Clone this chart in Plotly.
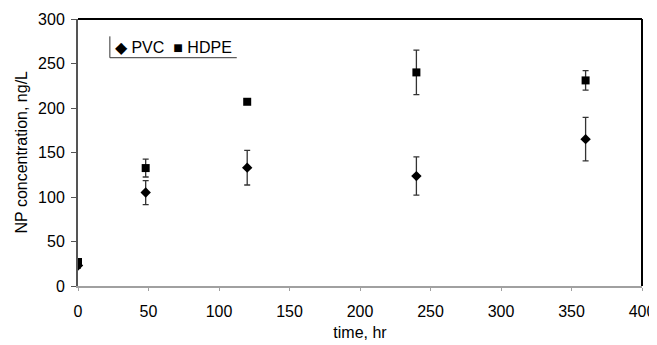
import plotly.graph_objects as go

time_hr = [0, 48, 120, 240, 360]
pvc = [23, 105, 133, 123.5, 165]
pvc_err = [3, 13.5, 19.5, 21.5, 24.5]
hdpe = [27, 132.5, 207, 240, 231]
hdpe_err = [2, 10, 2, 25, 11]

x_ticks = [0, 50, 100, 150, 200, 250, 300, 350, 400]
y_ticks = [0, 50, 100, 150, 200, 250, 300]
legend_text = "◆ PVC  ■ HDPE"
x_title = "time, hr"
y_title = "NP concentration, ng/L"

FONT = "Liberation Sans, Arial, sans-serif"

fig = go.Figure()
fig.add_trace(go.Scatter(
    x=time_hr, y=pvc, mode="markers", name="PVC",
    marker=dict(symbol="diamond", size=8, color="black"),
    error_y=dict(type="data", array=pvc_err, color="#333333", thickness=1.3, width=3),
))
fig.add_trace(go.Scatter(
    x=time_hr, y=hdpe, mode="markers", name="HDPE",
    marker=dict(symbol="square", size=8, color="black"),
    error_y=dict(type="data", array=hdpe_err, color="#333333", thickness=1.3, width=3),
))

# page body has an 8px default margin, so the figure is sized to fill the rest
fig.update_layout(
    width=649, height=337,
    margin=dict(l=70, r=15, t=11, b=59),
    paper_bgcolor="white", plot_bgcolor="white",
    font=dict(family=FONT, size=16, color="black"),
    showlegend=False,
    xaxis=dict(
        range=[0, 400], tickvals=x_ticks, ticktext=[str(v) for v in x_ticks],
        showgrid=False, zeroline=False, automargin=False,
        showline=True, linecolor="#a0a0a0", linewidth=2,
        ticks="outside", ticklen=3, tickcolor="#a0a0a0", tickwidth=1,
        ticklabelstandoff=7,
        tickfont=dict(family=FONT, size=16),
        title=dict(text=x_title, font=dict(family=FONT, size=16), standoff=8),
    ),
    yaxis=dict(
        range=[0, 300], tickvals=y_ticks, ticktext=[str(v) for v in y_ticks],
        showgrid=False, zeroline=False, automargin=False,
        showline=True, linecolor="#555555", linewidth=2,
        ticks="outside", ticklen=5, tickcolor="#555555", tickwidth=1,
        ticklabelstandoff=3,
        tickfont=dict(family=FONT, size=16),
    ),
)

# y-axis title placed as rotated text
fig.add_annotation(xref="paper", yref="paper", x=0, y=0.5, xanchor="center", yanchor="middle",
                   xshift=-57, textangle=-90, text=y_title, showarrow=False,
                   font=dict(family=FONT, size=16, color="black"))

# legend as text with partial frame (left and bottom lines), like the original
fig.add_annotation(xref="paper", yref="paper", x=0.062, y=0.895, xanchor="left", yanchor="middle",
                   text=legend_text, showarrow=False, font=dict(family=FONT, size=16, color="black"))
fig.add_shape(type="line", xref="paper", yref="paper", x0=0.0565, x1=0.0565, y0=0.855, y1=0.935,
              line=dict(color="#333333", width=1))
fig.add_shape(type="line", xref="paper", yref="paper", x0=0.0565, x1=0.2815, y0=0.855, y1=0.855,
              line=dict(color="#333333", width=1))

# top and right borders of the plot frame
fig.add_shape(type="line", xref="paper", yref="paper", x0=0, x1=1, y0=1, y1=1,
              line=dict(color="black", width=2))
fig.add_shape(type="line", xref="paper", yref="paper", x0=1, x1=1, y0=0, y1=1,
              line=dict(color="black", width=2))

fig.write_html("out.html")
